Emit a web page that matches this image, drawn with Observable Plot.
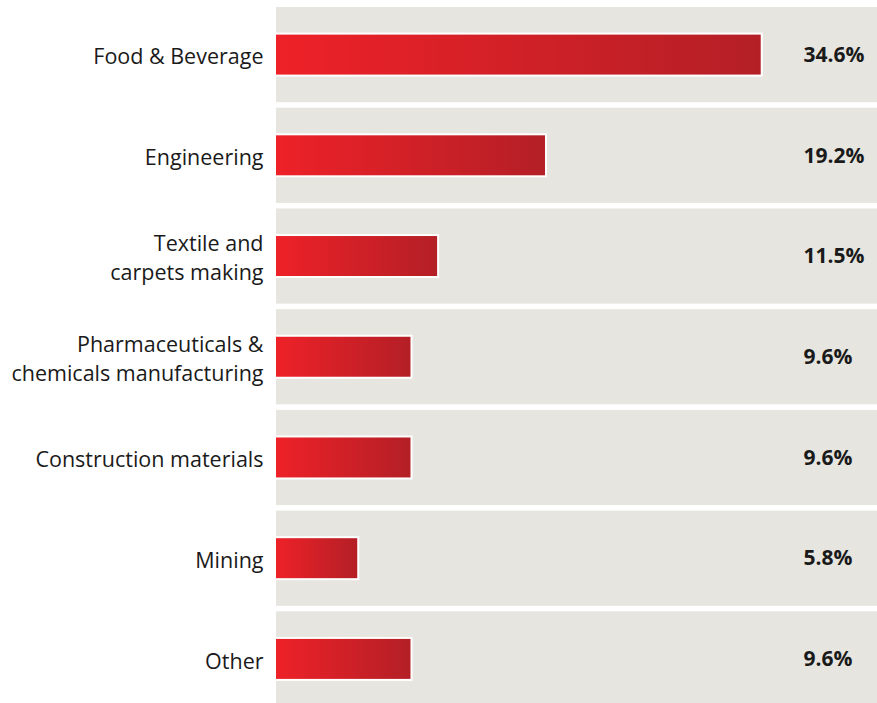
<!DOCTYPE html>
<html><head><meta charset="utf-8">
<script src="https://cdn.jsdelivr.net/npm/d3@7"></script>
<script src="https://cdn.jsdelivr.net/npm/@observablehq/plot@0.6"></script>
<style>body{margin:0;background:#fff}</style>
</head><body><div id="chart"></div>
<script>
const categories = ["Food & Beverage","Engineering","Textile and\ncarpets making","Pharmaceuticals &\nchemicals manufacturing","Construction materials","Mining","Other"];
const shares = [34.6,19.2,11.5,9.6,9.6,5.8,9.6];
const valueLabels = ["34.6%","19.2%","11.5%","9.6%","9.6%","5.8%","9.6%"];
const xMax = 42.9;
const data = categories.map((c,i)=>({category:c, share:shares[i], label:valueLabels[i], max:xMax}));

const defs = () => {
  const s = d3.create("svg:defs");
  const g = s.append("linearGradient").attr("id","barGrad").attr("x1",0).attr("x2",1).attr("y1",0).attr("y2",0);
  g.append("stop").attr("offset","0%").attr("stop-color","#ee2128");
  g.append("stop").attr("offset","100%").attr("stop-color","#b41f26");
  return s.node();
};

const chart = Plot.plot({
  width: 877, height: 703,
  marginLeft: 276, marginRight: 0, marginTop: 0, marginBottom: 0,
  style: {fontFamily: "Open Sans", fontSize: "21px", color: "#1a1a1a", background: "#fff"},
  x: {domain: [0, xMax], axis: null},
  y: {domain: categories, range: [7, 706.5], paddingInner: 0.055, paddingOuter: 0, round: false, label: null},
  marks: [
    defs,
    Plot.barX(data, {y: "category", x: "max", fill: "#e6e5df"}),
    Plot.barX(data, {y: "category", x: "share", fill: "white", stroke: "white", strokeWidth: 4, insetTop: 27.6, insetBottom: 27.6}),
    Plot.barX(data, {y: "category", x: "share", fill: "url(#barGrad)", insetTop: 27.6, insetBottom: 27.6}),
    Plot.axisY({tickSize: 0, tickPadding: 13, lineHeight: 1.36, fontSize: 21.5, fill: "#1a1a1a", label: null}),
    Plot.text(data, {y: "category", text: "label", frameAnchor: "right", dx: -74, textAnchor: "start", fontWeight: "bold", fontSize: 21, fill: "#1a1a1a"})
  ]
});
document.getElementById("chart").appendChild(chart);
</script>
</body></html>
